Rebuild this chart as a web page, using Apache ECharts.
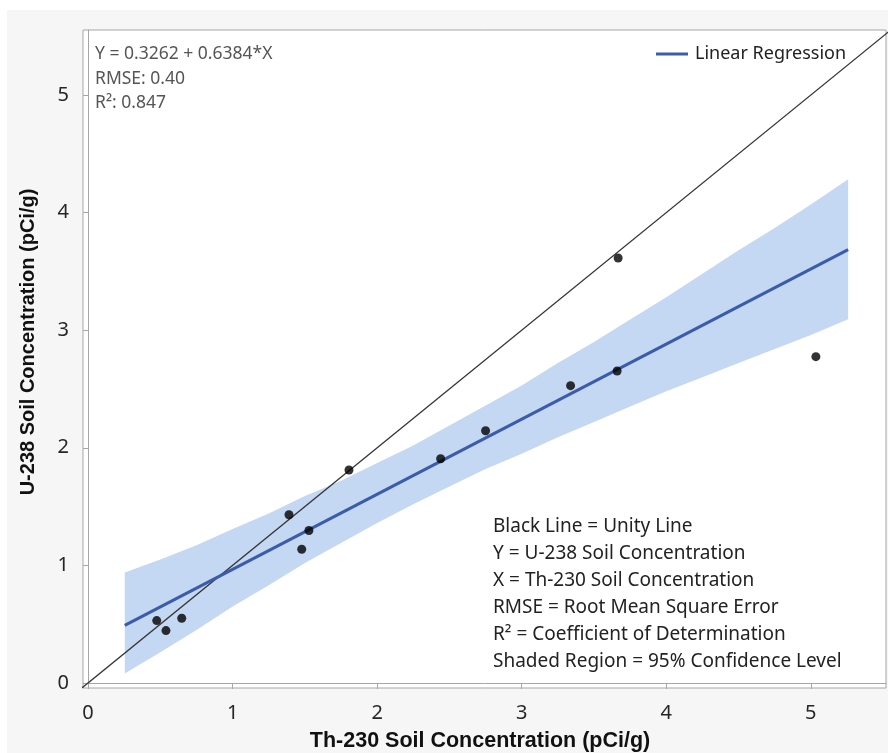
<!DOCTYPE html>
<html>
<head>
<meta charset="utf-8">
<script src="https://cdn.jsdelivr.net/npm/echarts@6/dist/echarts.min.js"></script>
<style>
html,body{margin:0;padding:0;background:#fff;}
#wrap{position:relative;width:888px;height:753px;background:#fff;overflow:hidden;}
#bg{position:absolute;left:7px;top:10px;width:881px;height:743px;background:#f6f6f6;}
#chart{position:absolute;left:0;top:0;width:888px;height:753px;}
</style>
</head>
<body>
<div id="wrap"><div id="bg"></div><div id="chart"></div></div>
<script>
// Observed data points (Th-230, U-238), pCi/g
const th230 = [0.475, 0.539, 0.648, 1.39, 1.478, 1.528, 1.805, 2.439, 2.75, 3.338, 3.66, 3.667, 5.035];
const u238  = [0.53, 0.445, 0.55, 1.43, 1.137, 1.296, 1.811, 1.907, 2.145, 2.528, 2.653, 3.614, 2.775];

// Linear regression line end points
const fitX = [0.254, 5.258];
const fitY = [0.49, 3.685];

// 95% confidence band
const bandX     = [0.254, 0.5, 0.75, 1.0, 1.25, 1.5, 1.75, 2.0, 2.25, 2.5, 2.75, 3.0, 3.25, 3.5, 3.75, 4.0, 4.25, 4.5, 4.75, 5.0, 5.258];
const bandUpper = [0.94, 1.05, 1.17, 1.31, 1.44, 1.59, 1.72, 1.87, 2.02, 2.19, 2.36, 2.53, 2.72, 2.90, 3.09, 3.28, 3.48, 3.68, 3.87, 4.07, 4.283];
const bandLower = [0.08, 0.26, 0.45, 0.65, 0.83, 1.02, 1.19, 1.36, 1.52, 1.67, 1.82, 1.95, 2.09, 2.22, 2.35, 2.48, 2.60, 2.72, 2.84, 2.96, 3.093];

// Unity line
const unityX = [-0.2, 5.8];
const unityY = [-0.2, 5.8];

// Axis ticks
const xTicks = [0, 1, 2, 3, 4, 5];
const yTicks = [0, 1, 2, 3, 4, 5];

const statsLines = ['Y = 0.3262 + 0.6384*X', 'RMSE: 0.40', 'R\u00b2: 0.847'];
const noteLines = [
  'Black Line = Unity Line',
  'Y = U-238 Soil Concentration',
  'X = Th-230 Soil Concentration',
  'RMSE = Root Mean Square Error',
  'R\u00b2 = Coefficient of Determination',
  'Shaded Region = 95% Confidence Level'
];

const FONT = '"Noto Sans", "Open Sans", sans-serif';
const BOLD = '"Liberation Sans", Arial, sans-serif';
const chart = echarts.init(document.getElementById('chart'), null, {renderer: 'canvas'});

const bandData = bandX.map((x, i) => [x, bandLower[i], bandUpper[i]]);

chart.setOption({
  animation: false,
  textStyle: {fontFamily: FONT},
  grid: {
    left: 83, top: 30, right: 2, bottom: 65,
    outerBoundsMode: 'none', containLabel: false,
    show: true, backgroundColor: '#ffffff', borderColor: '#a6a6a6', borderWidth: 1
  },
  legend: {
    left: 656, top: 45, padding: 0,
    data: [{name: 'Linear Regression', icon: 'rect'}],
    itemWidth: 32, itemHeight: 3,
    textStyle: {fontSize: 18, color: '#222', fontFamily: FONT, padding: [0, 0, 0, 2]}
  },
  xAxis: {
    type: 'value', min: -0.035, max: 5.52,
    name: 'Th-230 Soil Concentration (pCi/g)',
    nameLocation: 'middle', nameGap: 42,
    nameTextStyle: {fontSize: 21.5, fontWeight: 'bold', color: '#111', fontFamily: BOLD, padding: [0, 9, 0, 0]},
    axisLine: {show: true, lineStyle: {color: '#a6a6a6'}},
    axisTick: {show: true, length: 6, lineStyle: {color: '#a6a6a6'}, customValues: xTicks},
    axisLabel: {fontSize: 20, color: '#262626', margin: 15, customValues: xTicks},
    splitLine: {show: false}
  },
  yAxis: {
    type: 'value', min: -0.043, max: 5.553,
    name: 'U-238 Soil Concentration (pCi/g)',
    nameLocation: 'middle', nameGap: 45,
    nameTextStyle: {fontSize: 20, fontWeight: 'bold', color: '#111', fontFamily: BOLD, padding: [0, 0, 0, 34]},
    axisLine: {show: true, lineStyle: {color: '#a6a6a6'}},
    axisTick: {show: true, length: 5, lineStyle: {color: '#a6a6a6'}, customValues: yTicks},
    axisLabel: {fontSize: 20, color: '#262626', margin: 14, customValues: yTicks},
    splitLine: {show: false}
  },
  series: [
    {
      name: 'band', type: 'custom', clip: true, z: 1,
      data: bandData,
      encode: {x: 0, y: [1, 2]},
      renderItem: function (params, api) {
        if (params.dataIndex !== 0) return null;
        const pts = [];
        for (let i = 0; i < bandData.length; i++) pts.push(api.coord([bandData[i][0], bandData[i][2]]));
        for (let i = bandData.length - 1; i >= 0; i--) pts.push(api.coord([bandData[i][0], bandData[i][1]]));
        return {type: 'polygon', shape: {points: pts}, style: {fill: '#c4d7f3', stroke: null}};
      },
      silent: true
    },
    {
      name: 'unity', type: 'line', z: 2, clip: true,
      data: unityX.map((x, i) => [x, unityY[i]]),
      showSymbol: false, symbol: 'none',
      lineStyle: {color: '#333333', width: 1.2}, silent: true
    },
    {
      name: 'Linear Regression', type: 'line', z: 3,
      data: fitX.map((x, i) => [x, fitY[i]]),
      showSymbol: false, symbol: 'none',
      itemStyle: {color: '#3a5ca9'},
      lineStyle: {color: '#3a5ca9', width: 3}, silent: true
    },
    {
      name: 'points', type: 'scatter', z: 4,
      data: th230.map((x, i) => [x, u238[i]]),
      symbolSize: 9,
      itemStyle: {color: '#000000'}, silent: true
    }
  ],
  graphic: [
    {
      type: 'text', left: 95, top: 42, z: 10,
      style: {text: statsLines.join('\n'), font: '17.5px ' + FONT, fill: '#555', lineHeight: 24.5}
    },
    {
      type: 'text', left: 493, top: 513, z: 10,
      style: {text: noteLines.join('\n'), font: '19px ' + FONT, fill: '#222', lineHeight: 27}
    }
  ]
});
</script>
</body>
</html>
